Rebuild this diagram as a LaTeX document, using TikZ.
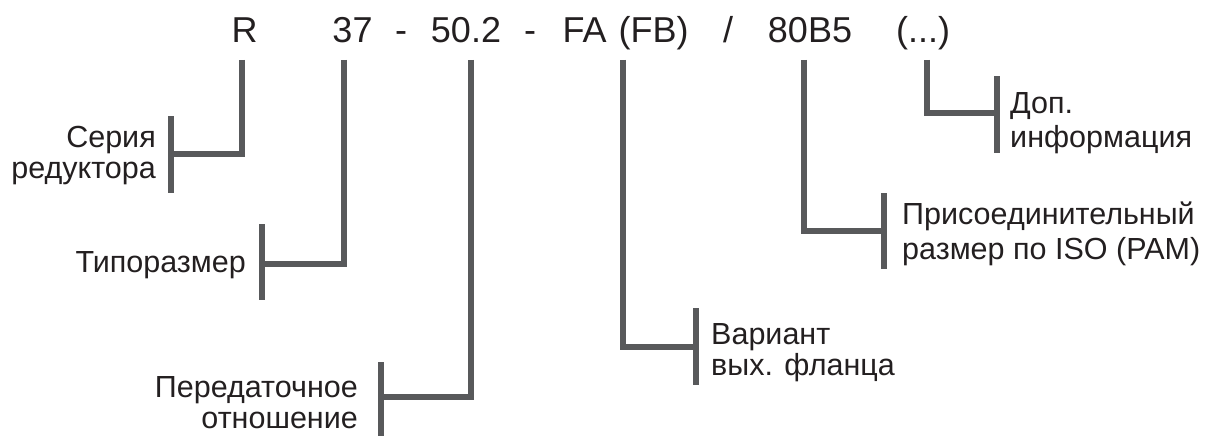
\documentclass[tikz,border=0pt]{standalone}
\usepackage{fontspec}
\setmainfont{Liberation Sans}
\begin{document}
\begin{tikzpicture}[x=1pt,y=-1pt,
  tok/.style={anchor=base,inner sep=0pt,text=txt,font=\fontsize{36}{43}\selectfont},
  lblR/.style={anchor=base east,inner sep=0pt,align=right,text=txt,font=\fontsize{30.5}{31}\selectfont},
  lblL/.style={anchor=base west,inner sep=0pt,align=left,text=txt,font=\fontsize{30.5}{31}\selectfont},
  conn/.style={draw=ln,line width=5.5pt,line join=miter,line cap=butt},
  bar/.style={draw=ln,line width=5.5pt,line cap=butt}]
\definecolor{txt}{HTML}{231F20}
\definecolor{ln}{HTML}{58595B}
\useasboundingbox (0,0) rectangle (1206,436);
% top code
\node[tok] (tR) at (244.5,42) {R};
\node[tok] (t37) at (352.5,42) {37};
\node[tok] (d1) at (401,42) {-};
\node[tok] (t50) at (466,42) {50.2};
\node[tok] (d2) at (530,42) {-};
\node[tok] (tFA) at (584.5,42) {FA};
\node[tok] (tFB) at (653.5,42) {(FB)};
\node[tok] (sl) at (728,42) {/};
\node[tok] (t80) at (810,42) {80B5};
\node[tok] (tdots) at (923,42) {(...)};
% connector start points under the code
\coordinate (sR) at (242,60);
\coordinate (s37) at (344,60);
\coordinate (s50) at (471,60);
\coordinate (sFA) at (623,60);
\coordinate (s80) at (804,60);
\coordinate (sD) at (927,60);
% label bars
\coordinate (b1t) at (171,116); \coordinate (b1b) at (171,193); \coordinate (b1m) at (171,154);
\coordinate (b2t) at (262,224); \coordinate (b2b) at (262,300); \coordinate (b2m) at (262,264);
\coordinate (b3t) at (381,362); \coordinate (b3b) at (381,436); \coordinate (b3m) at (381,397);
\coordinate (b4t) at (696,308); \coordinate (b4b) at (696,385); \coordinate (b4m) at (696,347);
\coordinate (b5t) at (884,193); \coordinate (b5b) at (884,269); \coordinate (b5m) at (884,231);
\coordinate (b6t) at (997,76);  \coordinate (b6b) at (997,153); \coordinate (b6m) at (997,113);
\foreach \i in {1,...,6} {\path[bar] (b\i t) -- (b\i b);}
% connectors
\path[conn] (sR) |- (b1m);
\path[conn] (s37) |- (b2m);
\path[conn] (s50) |- (b3m);
\path[conn] (sFA) |- (b4m);
\path[conn] (s80) |- (b5m);
\path[conn] (sD) |- (b6m);
% labels (anchor = baseline of the last line)
\node[lblR] (l1) at (156,178) {Серия\\редуктора};
\node[lblR] (l2) at (246,272) {Типоразмер};
\node[lblR] (l3) at (358,428) {Передаточное\\отношение};
\node[lblL] (l4) at (711,375) {Вариант\\вых. фланца};
\node[lblL,font=\fontsize{30.5}{35}\selectfont] (l5) at (902,259) {Присоединительный\\размер по ISO (PAM)};
\node[lblL,font=\fontsize{30.5}{34}\selectfont] (l6) at (1010,147) {Доп.\\информация};
\end{tikzpicture}
\end{document}
